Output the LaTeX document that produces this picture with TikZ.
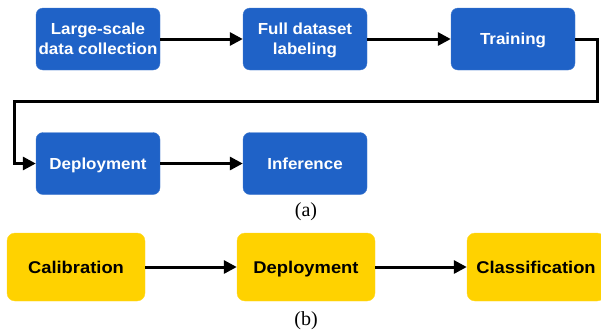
\documentclass[tikz,border=0pt]{standalone}
\usepackage{fontspec}
\setmainfont{Liberation Serif}
\setsansfont{Liberation Sans}
\newfontfamily\bluefont{Liberation Sans Bold}[FakeStretch=1.06]
\newfontfamily\yellowfont{Liberation Sans Bold}[FakeStretch=1.08]
\usetikzlibrary{arrows.meta}
\definecolor{stepblue}{RGB}{31,98,199}
\definecolor{stepyellow}{RGB}{255,210,0}
\begin{document}
\begin{tikzpicture}[x=1pt,y=-1pt,
  bluebox/.style={fill=stepblue,draw=stepblue!85!white,rounded corners=7pt,minimum width=124pt,minimum height=62pt,inner xsep=2pt,align=center,text=white,text height=11.7pt,text depth=0pt,font=\bluefont\fontsize{16}{20}\selectfont},
  twoline/.style={text height=31.7pt,text depth=0pt},
  yellowbox/.style={fill=stepyellow,draw=stepyellow!85!white,rounded corners=8pt,minimum width=138pt,minimum height=68pt,inner xsep=2pt,align=center,text=black,text height=12.3pt,text depth=0pt,font=\yellowfont\fontsize{17}{21}\selectfont},
  arr/.style={line width=3pt,-{Triangle[length=13pt,width=13pt]}},
  caption/.style={font=\fontsize{20}{24}\selectfont}]
\useasboundingbox (0,0) rectangle (601,333);
% (a)
\node[bluebox,twoline] (collect) at (98,39) {Large-scale\\data collection};
\node[bluebox,twoline] (label) at (305,39) {Full dataset\\labeling};
\node[bluebox] (train) at (513,39) {Training};
\node[bluebox] (deploy) at (98,163.5) {Deployment};
\node[bluebox] (infer) at (305,163.5) {Inference};
\coordinate (turnR) at (597,101);
\coordinate (turnL) at (14,101);
\draw[arr] (collect) -- (label);
\draw[arr] (label) -- (train);
\draw[arr,rounded corners=0pt] (train.east) -| (turnR) -- (turnL) |- (deploy.west);
\draw[arr] (deploy) -- (infer);
\node[caption] (capa) at (306,212) {(a)};
% (b)
\node[yellowbox] (calib) at (76,267) {Calibration};
\node[yellowbox] (deployb) at (306,267) {Deployment};
\node[yellowbox] (classif) at (536,267) {Classification};
\draw[arr] (calib) -- (deployb);
\draw[arr] (deployb) -- (classif);
\node[caption] (capb) at (306,321) {(b)};
\end{tikzpicture}
\end{document}
